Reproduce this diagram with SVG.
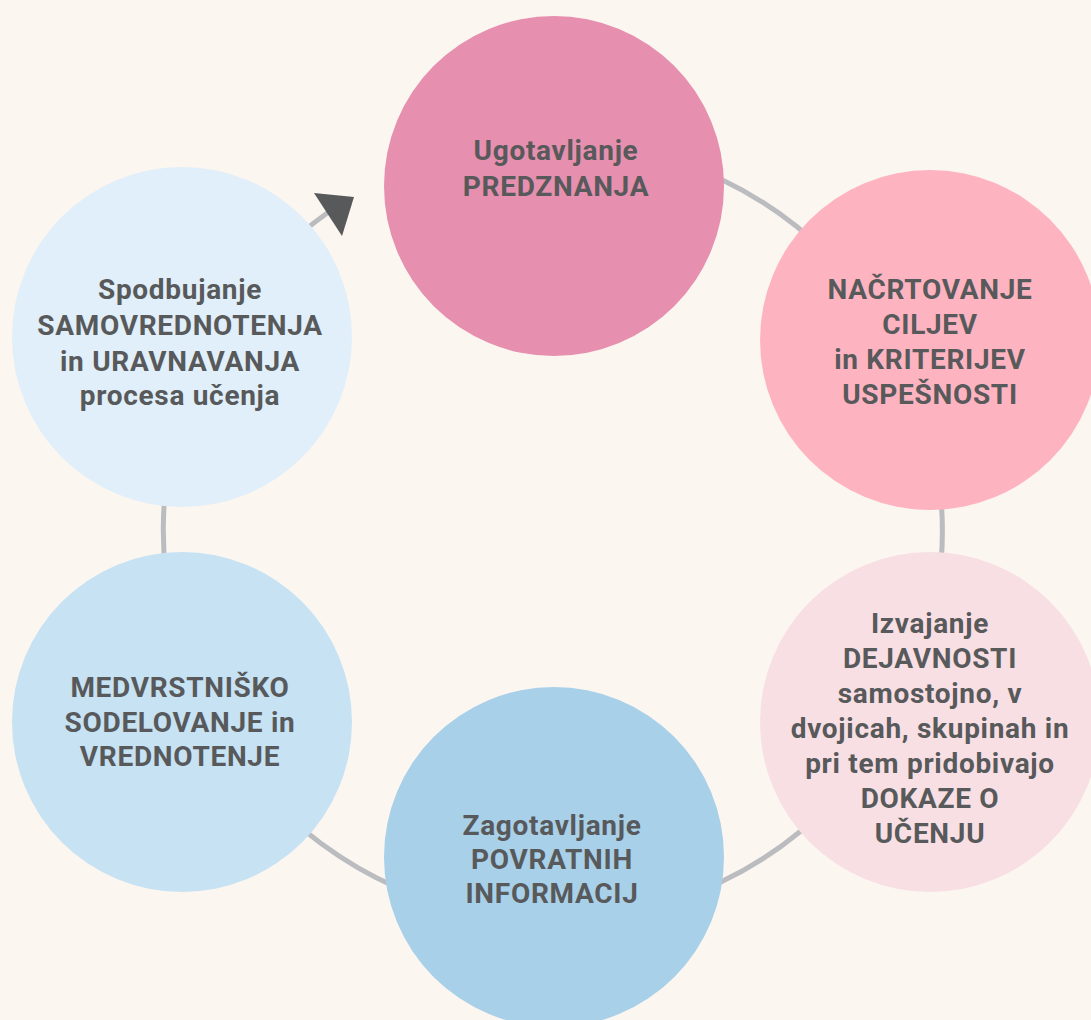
<svg xmlns="http://www.w3.org/2000/svg" width="1091" height="1020" viewBox="0 0 1091 1020">
<style>
.t{font-family:Roboto,"Liberation Sans",sans-serif;font-weight:bold;font-size:28px;fill:#58595b;text-anchor:middle;letter-spacing:0.7px}
.ring{fill:none;stroke:#bbbcbf;stroke-width:5}
</style>
<rect width="1091" height="1020" fill="#fcf6f1"/>
<g id="connectors">
<path class="ring" d="M552.5,141 A389.5,389.5 0 1 1 327.6,212.7"/>
<polygon points="314,193 354,197 342,236" fill="#58595b"/>
</g>
<g id="n1">
<circle cx="554" cy="186" r="170" fill="#e68fae"/>
<text class="t" x="556" y="160">Ugotavljanje</text>
<text class="t" x="556" y="196">PREDZNANJA</text>
</g>
<g id="n2">
<circle cx="930" cy="340" r="170" fill="#feb4c0"/>
<text class="t" x="930" y="299">NAČRTOVANJE</text>
<text class="t" x="930" y="334">CILJEV</text>
<text class="t" x="930" y="369">in KRITERIJEV</text>
<text class="t" x="930" y="404">USPEŠNOSTI</text>
</g>
<g id="n3">
<circle cx="930" cy="722" r="170" fill="#f7dfe3"/>
<text class="t" x="930" y="633">Izvajanje</text>
<text class="t" x="930" y="668">DEJAVNOSTI</text>
<text class="t" x="930" y="703">samostojno, v</text>
<text class="t" x="930" y="738">dvojicah, skupinah in</text>
<text class="t" x="930" y="773">pri tem pridobivajo</text>
<text class="t" x="930" y="808">DOKAZE O</text>
<text class="t" x="930" y="843">UČENJU</text>
</g>
<g id="n4">
<circle cx="554" cy="857" r="170" fill="#a8d0e9"/>
<text class="t" x="552" y="835">Zagotavljanje</text>
<text class="t" x="552" y="869">POVRATNIH</text>
<text class="t" x="552" y="903">INFORMACIJ</text>
</g>
<g id="n5">
<circle cx="182" cy="722" r="170" fill="#c6e2f3"/>
<text class="t" x="180" y="697">MEDVRSTNIŠKO</text>
<text class="t" x="180" y="732">SODELOVANJE in</text>
<text class="t" x="180" y="766">VREDNOTENJE</text>
</g>
<g id="n6">
<circle cx="182" cy="337" r="170" fill="#e0eff9"/>
<text class="t" x="180" y="299">Spodbujanje</text>
<text class="t" x="180" y="335">SAMOVREDNOTENJA</text>
<text class="t" x="180" y="371">in URAVNAVANJA</text>
<text class="t" x="180" y="405">procesa učenja</text>
</g>
</svg>
